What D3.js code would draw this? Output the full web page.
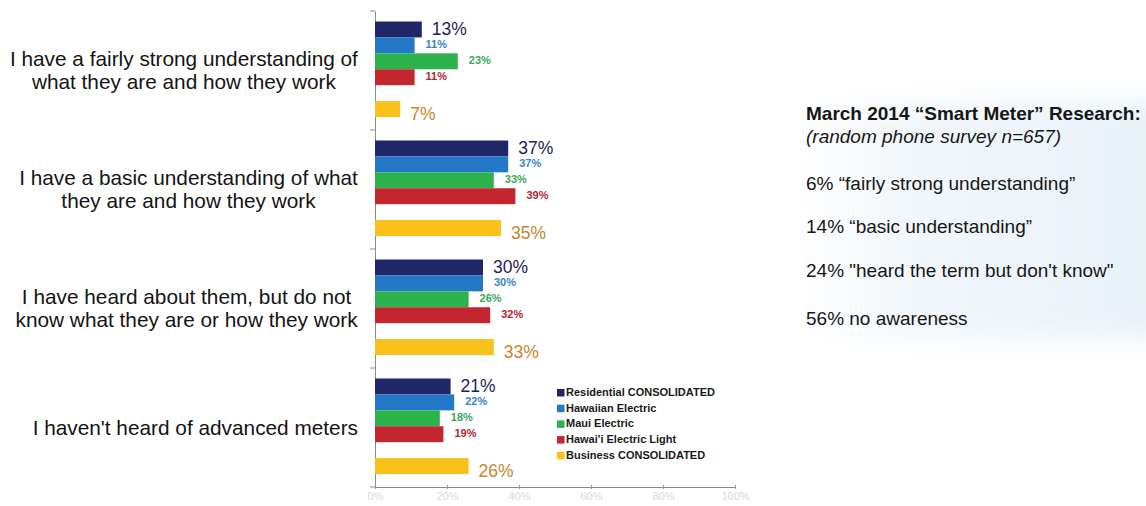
<!DOCTYPE html>
<html>
<head>
<meta charset="utf-8">
<script src="https://cdn.jsdelivr.net/npm/d3@7/dist/d3.min.js"></script>
<style>
  html, body { margin: 0; padding: 0; background: #ffffff; }
  svg { display: block; font-family: "Liberation Sans", Arial, sans-serif; }
</style>
</head>
<body>
<svg id="chart" width="1146" height="506"></svg>
<script>
// Survey answers (one group of bars per answer)
const categories = [
  ["I have a fairly strong understanding of", "what they are and how they work"],
  ["I have a basic understanding of what", "they are and how they work"],
  ["I have heard about them, but do not", "know what they are or how they work"],
  ["I haven't heard of advanced meters"]
];
const seriesNames = [
  "Residential CONSOLIDATED",
  "Hawaiian Electric",
  "Maui Electric",
  "Hawai'i Electric Light",
  "Business CONSOLIDATED"
];
const residential = [13, 37, 30, 21];
const hawaiianElectric = [11, 37, 30, 22];
const mauiElectric = [23, 33, 26, 18];
const hawaiiElectricLight = [11, 39, 32, 19];
const business = [7, 35, 33, 26];
const xTicks = [0, 20, 40, 60, 80, 100];

const noteTitle = "March 2014 \u201cSmart Meter\u201d Research:";
const noteSubtitle = "(random phone survey n=657)";
const noteLines = [
  "6% \u201cfairly strong understanding\u201d",
  "14% \u201cbasic understanding\u201d",
  "24% \"heard the term but don't know\"",
  "56% no awareness"
];

const seriesValues = [residential, hawaiianElectric, mauiElectric, hawaiiElectricLight, business];
const barColors = ["#1f2768", "#2379c6", "#2db34c", "#c3262e", "#f8c21a"];
const labelColors = ["#1d2455", "#3a84c6", "#3aa75a", "#b3262f", "#c9852c"];
// slot within each group; the slot before the business bar stays empty
const slotOf = [0, 1, 2, 3, 5];

const svg = d3.select("#chart");

// soft blue panel behind the notes
const defs = svg.append("defs");
const grad = defs.append("linearGradient").attr("id", "panelGrad")
  .attr("x1", 0).attr("x2", 1).attr("y1", 0).attr("y2", 0);
grad.append("stop").attr("offset", "0%").attr("stop-color", "#ffffff");
grad.append("stop").attr("offset", "30%").attr("stop-color", "#f2f7fb");
grad.append("stop").attr("offset", "100%").attr("stop-color", "#e8f1f8");
const blur = defs.append("filter").attr("id", "soft").attr("x", "-20%").attr("y", "-20%")
  .attr("width", "140%").attr("height", "140%");
blur.append("feGaussianBlur").attr("stdDeviation", 14);
svg.append("rect").attr("x", 790).attr("y", 100).attr("width", 380).attr("height", 240)
  .attr("fill", "url(#panelGrad)").attr("filter", "url(#soft)");

// scales
const x = d3.scaleLinear().domain([0, 100]).range([375, 735]);
const y = d3.scaleBand().domain(d3.range(categories.length)).range([11, 487]);
const slot = d3.scaleBand().domain(d3.range(6)).range([10.5, 106]);

// axes
const xAxis = d3.axisBottom(x).tickValues(xTicks).tickFormat(d => d + "%").tickSize(4).tickSizeOuter(0);
const gx = svg.append("g").attr("transform", "translate(0,487)").call(xAxis);
gx.select(".domain").attr("stroke", "#8a8a8a");
gx.selectAll(".tick line").attr("stroke", "#9a9a9a").attr("transform", "translate(0,-2)");
gx.selectAll(".tick text").attr("fill", "#dadada").attr("font-size", 11).attr("dy", "0.55em");

const yAxis = d3.axisLeft(y).tickValues([]).tickSizeOuter(0);
const gy = svg.append("g").attr("transform", "translate(375,0)").call(yAxis);
gy.select(".domain").attr("stroke", "#8a8a8a");
// boundary ticks between groups
const bounds = d3.range(categories.length + 1).map(i => i < categories.length ? y(i) : y(i - 1) + y.bandwidth());
svg.append("g").selectAll("line").data(bounds).join("line")
  .attr("x1", 370).attr("x2", 375).attr("y1", d => d).attr("y2", d => d)
  .attr("stroke", "#8a8a8a");

// category labels
const catG = svg.append("g");
categories.forEach((lines, i) => {
  const cy = y(i) + y.bandwidth() / 2;
  const t = catG.append("text").attr("text-anchor", "middle").attr("fill", "#141414")
    .attr("font-size", 20.8);
  const lh = 23;
  lines.forEach((ln, j) => {
    t.append("tspan").attr("x", 0)
      .attr("y", cy + 7 + (j - (lines.length - 1) / 2) * lh)
      .text(ln);
  });
  // center each block so its widest line ends near the axis
  const w = t.node().getBBox().width;
  t.attr("transform", `translate(${358 - w / 2},0)`);
});

// bars and value labels
const barG = svg.append("g");
const lblG = svg.append("g");
seriesValues.forEach((vals, s) => {
  vals.forEach((v, i) => {
    const y0 = y(i) + slot(slotOf[s]);
    barG.append("rect")
      .attr("x", x(0)).attr("y", y0)
      .attr("width", x(v) - x(0)).attr("height", slot.bandwidth())
      .attr("fill", barColors[s]);
    const big = (s === 0 || s === 4);
    lblG.append("text")
      .attr("x", x(v) + (big ? 10 : 11))
      .attr("y", y0 + slot.bandwidth() / 2 + (s === 4 ? 5 : 0) + (big ? 1 : 0))
      .attr("dominant-baseline", "middle")
      .attr("font-size", big ? 17.5 : 11)
      .attr("font-weight", big ? "normal" : "bold")
      .attr("fill", labelColors[s])
      .text(v + "%");
  });
});

// legend
const leg = svg.append("g").attr("transform", "translate(557,393)");
seriesNames.forEach((name, s) => {
  const row = leg.append("g").attr("transform", `translate(0,${s * 15.7})`);
  row.append("rect").attr("x", 0).attr("y", -4).attr("width", 7.5).attr("height", 7.5)
    .attr("fill", barColors[s]);
  row.append("text").attr("x", 9).attr("y", 0).attr("dominant-baseline", "middle")
    .attr("font-size", 11).attr("font-weight", "bold").attr("fill", "#1a1a1a").text(name);
});

// notes on the right
const notes = svg.append("g").attr("fill", "#161616");
notes.append("text").attr("x", 806).attr("y", 120).attr("font-size", 19)
  .attr("font-weight", "bold").text(noteTitle);
notes.append("text").attr("x", 806).attr("y", 143).attr("font-size", 19)
  .attr("font-style", "italic").text(noteSubtitle);
const noteY = [190, 233, 277, 325];
noteLines.forEach((ln, k) => {
  notes.append("text").attr("x", 806).attr("y", noteY[k]).attr("font-size", 19).text(ln);
});
</script>
</body>
</html>
